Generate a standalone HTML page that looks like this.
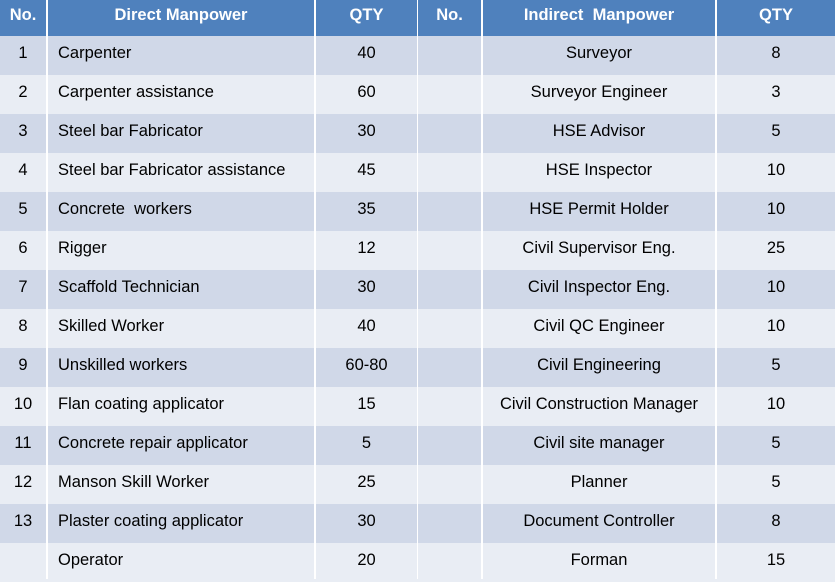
<!DOCTYPE html>
<html>
<head>
<meta charset="utf-8">
<style>
  html,body{margin:0;padding:0;}
  body{width:835px;height:579px;overflow:hidden;position:relative;background:#E9EDF4;
       font-family:"Liberation Sans",Arial,sans-serif;font-size:16.5px;color:#000;}
  .row{position:absolute;left:0;width:835px;height:39px;}
  .hdr{top:0;height:36px;background:#4F81BD;color:#fff;font-weight:bold;}
  .odd{background:#D0D8E8;}
  .even{background:#E9EDF4;}
  .c{position:absolute;top:0;height:35px;line-height:35px;white-space:nowrap;}
  .hdr .c{height:31px;line-height:31px;}
  .c1{left:0;width:46px;text-align:center;}
  .c2{left:58px;width:256px;text-align:left;}
  .hdr .c2{left:48px;width:266px;text-align:center;}
  .c3{left:316px;width:101px;text-align:center;}
  .c4{left:418px;width:63px;text-align:center;}
  .c5{left:483px;width:232px;text-align:center;}
  .c6{left:717px;width:118px;text-align:center;}
  .vl{position:absolute;top:0;height:579px;background:#fff;}
</style>
</head>
<body>
<div class="row hdr"><div class="c c1">No.</div><div class="c c2">Direct Manpower</div><div class="c c3">QTY</div><div class="c c4">No.</div><div class="c c5">Indirect&nbsp; Manpower</div><div class="c c6">QTY</div></div>

<div class="row odd" style="top:36px"><div class="c c1">1</div><div class="c c2">Carpenter</div><div class="c c3">40</div><div class="c c5">Surveyor</div><div class="c c6">8</div></div>
<div class="row even" style="top:75px"><div class="c c1">2</div><div class="c c2">Carpenter assistance</div><div class="c c3">60</div><div class="c c5">Surveyor Engineer</div><div class="c c6">3</div></div>
<div class="row odd" style="top:114px"><div class="c c1">3</div><div class="c c2">Steel bar Fabricator</div><div class="c c3">30</div><div class="c c5">HSE Advisor</div><div class="c c6">5</div></div>
<div class="row even" style="top:153px"><div class="c c1">4</div><div class="c c2">Steel bar Fabricator assistance</div><div class="c c3">45</div><div class="c c5">HSE Inspector</div><div class="c c6">10</div></div>
<div class="row odd" style="top:192px"><div class="c c1">5</div><div class="c c2">Concrete&nbsp; workers</div><div class="c c3">35</div><div class="c c5">HSE Permit Holder</div><div class="c c6">10</div></div>
<div class="row even" style="top:231px"><div class="c c1">6</div><div class="c c2">Rigger</div><div class="c c3">12</div><div class="c c5">Civil Supervisor Eng.</div><div class="c c6">25</div></div>
<div class="row odd" style="top:270px"><div class="c c1">7</div><div class="c c2">Scaffold Technician</div><div class="c c3">30</div><div class="c c5">Civil Inspector Eng.</div><div class="c c6">10</div></div>
<div class="row even" style="top:309px"><div class="c c1">8</div><div class="c c2">Skilled Worker</div><div class="c c3">40</div><div class="c c5">Civil QC Engineer</div><div class="c c6">10</div></div>
<div class="row odd" style="top:348px"><div class="c c1">9</div><div class="c c2">Unskilled workers</div><div class="c c3">60-80</div><div class="c c5">Civil Engineering</div><div class="c c6">5</div></div>
<div class="row even" style="top:387px"><div class="c c1">10</div><div class="c c2">Flan coating applicator</div><div class="c c3">15</div><div class="c c5">Civil Construction Manager</div><div class="c c6">10</div></div>
<div class="row odd" style="top:426px"><div class="c c1">11</div><div class="c c2">Concrete repair applicator</div><div class="c c3">5</div><div class="c c5">Civil site manager</div><div class="c c6">5</div></div>
<div class="row even" style="top:465px"><div class="c c1">12</div><div class="c c2">Manson Skill Worker</div><div class="c c3">25</div><div class="c c5">Planner</div><div class="c c6">5</div></div>
<div class="row odd" style="top:504px"><div class="c c1">13</div><div class="c c2">Plaster coating applicator</div><div class="c c3">30</div><div class="c c5">Document Controller</div><div class="c c6">8</div></div>
<div class="row even" style="top:543px"><div class="c c1"></div><div class="c c2">Operator</div><div class="c c3">20</div><div class="c c5">Forman</div><div class="c c6">15</div></div>

<div class="vl" style="left:46px;width:2px"></div>
<div class="vl" style="left:314px;width:2px"></div>
<div class="vl" style="left:417px;width:1px"></div>
<div class="vl" style="left:481px;width:2px"></div>
<div class="vl" style="left:715px;width:2px"></div>
</body>
</html>
